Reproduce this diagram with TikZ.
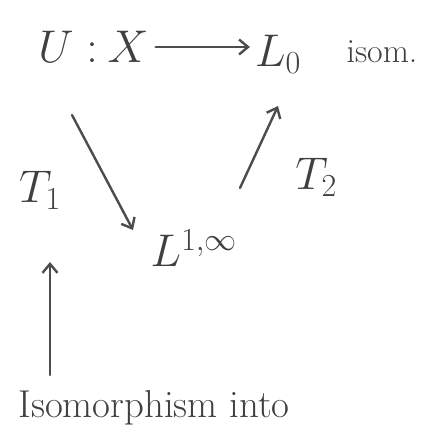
\documentclass[tikz,border=0pt]{standalone}
\usepackage{fix-cm}
\usepackage{amsmath}
\usetikzlibrary{arrows.meta,positioning}

\begin{document}
\begin{tikzpicture}[x=1bp,y=-1bp,>={Straight Barb[length=9bp,width=15bp]},
  pen/.style={draw=black!70,line width=2.4bp,line cap=round},
  lbl/.style={text=black!75,inner sep=1pt,font=\fontsize{46}{48}\selectfont}]
\useasboundingbox (0,0) rectangle (441,439);
\node[lbl] (U) at (68,47) {$U:$};
\node[lbl] (X) at (128,47) {$X$};
\node[lbl] (L0) at (278,54) {$L_0$};
\node[lbl,font=\fontsize{34}{36}\selectfont] (isom) at (382,52) {isom.};
\node[lbl] (T1) at (40,190) {$T_1$};
\node[lbl] (L1) at (194,248) {$L^{1,\infty}$};
\node[lbl] (T2) at (316,177) {$T_2$};
\node[lbl,font=\fontsize{39}{41}\selectfont] (into) at (154,408) {Isomorphism into};
\coordinate (t1a) at (72,115);\coordinate (t1b) at (133,230);
\coordinate (t2a) at (240,188);\coordinate (t2b) at (278,106);
\coordinate (upa) at (50,375);\coordinate (upb) at (50,262);
\draw[pen,->] (X.east) ++(6,0) -- ([xshift=-4bp]X -| L0.west);
\draw[pen,->] (t1a) -- (t1b);
\draw[pen,->] (t2a) -- (t2b);
\draw[pen,->] (upa) -- (upb);
\end{tikzpicture}
\end{document}
